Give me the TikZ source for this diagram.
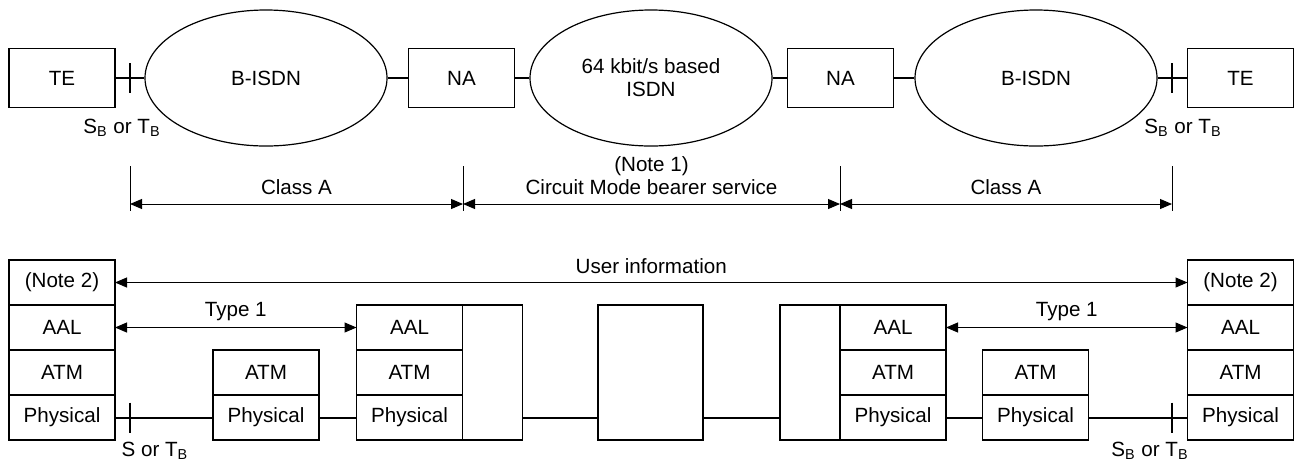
\documentclass[tikz,border=0pt]{standalone}
\usepackage{fontspec}
\setmainfont{Liberation Sans}
\usetikzlibrary{arrows.meta, shapes, positioning}

\begin{document}
\begin{tikzpicture}[x=0.5pt,y=-0.5pt,
 every node/.style={font=\fontsize{10.3}{11.5}\selectfont},
 box/.style={draw,line width=0.6pt,minimum width=53pt,minimum height=29.5pt,inner sep=0pt,outer sep=0pt},
 cloud/.style={ellipse,draw,line width=0.6pt,minimum width=121pt,minimum height=68pt,inner sep=0pt,align=center},
 layer/.style={draw,line width=0.6pt,minimum width=53pt,minimum height=22.5pt,inner sep=0pt,outer sep=0pt},
 blank/.style={draw,line width=0.6pt,minimum width=30pt,minimum height=67.5pt,inner sep=0pt,outer sep=0pt},
 link/.style={line width=1pt},
 tick/.style={line width=1pt},
 span/.style={{Triangle[length=6pt,width=5pt]}-{Triangle[length=6pt,width=5pt]},line width=0.5pt}]

  \useasboundingbox (0,0) rectangle (1294,462);

  % top row
  \node[box] (te1) at (62,78) {TE};
  \node[cloud] (isdn1) at (266,78) {B-ISDN};
  \node[box] (na1) at (461.5,78) {NA};
  \node[cloud] (isdn64) at (651,78) {64 kbit/s based\\ISDN};
  \node[box] (na2) at (840.5,78) {NA};
  \node[cloud] (isdn2) at (1036,78) {B-ISDN};
  \node[box] (te2) at (1240.5,78) {TE};

  \foreach \a/\b in {te1/isdn1, isdn1/na1, na1/isdn64, isdn64/na2, na2/isdn2, isdn2/te2} {
   \draw[link] (\a) -- (\b);}

  \coordinate (rpl) at (130,78);
  \coordinate (rpr) at (1172,78);
  \foreach \p in {rpl, rpr} {
   \draw[tick] ([yshift=7.5pt]\p) -- ([yshift=-7.5pt]\p);}
  \node (sbl) at (122,128) {S\textsubscript{B} or T\textsubscript{B}};
  \node (sbr) at (1183,128) {S\textsubscript{B} or T\textsubscript{B}};

  % spans
  \coordinate (d1) at (130,204);
  \coordinate (d2) at (463,204);
  \coordinate (d3) at (840,204);
  \coordinate (d4) at (1172,204);
  \foreach \c in {d1, d2, d3, d4} {
   \draw[line width=0.5pt] (\c) ++(0,-38) -- ++(0,45);}
  \draw[span] (d1) -- (d2) node[midway,above=1pt] {Class A};
  \draw[span] (d2) -- (d3) node[midway,above=1pt,align=center] {(Note 1)\\Circuit Mode bearer service};
  \draw[span] (d3) -- (d4) node[midway,above=1pt] {Class A};

  % protocol stacks
  \node[layer] (sl1) at (62,282.5) {(Note 2)};
  \node[layer] (sl2) [below=0pt of sl1] {AAL};
  \node[layer] (sl3) [below=0pt of sl2] {ATM};
  \node[layer] (sl4) [below=0pt of sl3] {Physical};

  \node[layer] (swl1) at (266,372.5) {ATM};
  \node[layer] (swl2) [below=0pt of swl1] {Physical};

  \node[layer] (el1) at (409.5,327.5) {AAL};
  \node[layer] (el2) [below=0pt of el1] {ATM};
  \node[layer] (el3) [below=0pt of el2] {Physical};
  \node[blank] (el4) [right=0pt of el2] {};

  \node[blank,minimum width=52.5pt] (mid) at (650.5,372.5) {};

  \node[layer] (er1) at (893,327.5) {AAL};
  \node[layer] (er2) [below=0pt of er1] {ATM};
  \node[layer] (er3) [below=0pt of er2] {Physical};
  \node[blank] (er4) [left=0pt of er2] {};

  \node[layer] (swr1) at (1035.5,372.5) {ATM};
  \node[layer] (swr2) [below=0pt of swr1] {Physical};

  \node[layer] (sr1) at (1240.5,282.5) {(Note 2)};
  \node[layer] (sr2) [below=0pt of sr1] {AAL};
  \node[layer] (sr3) [below=0pt of sr2] {ATM};
  \node[layer] (sr4) [below=0pt of sr3] {Physical};

  \foreach \a/\b in {sl4/swl2, swl2/el3, er3/swr2, swr2/sr4} {
   \draw[link] (\a) -- (\b);}
  \draw[link] (el4.east |- el3) -- (mid.west |- el3);
  \draw[link] (mid.east |- er3) -- (er4.west |- er3);

  \coordinate (rbl) at (130,417.5);
  \coordinate (rbr) at (1172,417.5);
  \foreach \p in {rbl, rbr} {
   \draw[tick] ([yshift=7.5pt]\p) -- ([yshift=-7.5pt]\p);}
  \node (stl) at (155,451) {S or T\textsubscript{B}};
  \node (str) at (1150,451) {S\textsubscript{B} or T\textsubscript{B}};

  \draw[span] (sl1) -- (sr1) node[midway,above=1pt] {User information};
  \draw[span] (sl2) -- (el1) node[midway,above=0pt] {Type 1};
  \draw[span] (er1) -- (sr2) node[midway,above=0pt] {Type 1};
\end{tikzpicture}
\end{document}
